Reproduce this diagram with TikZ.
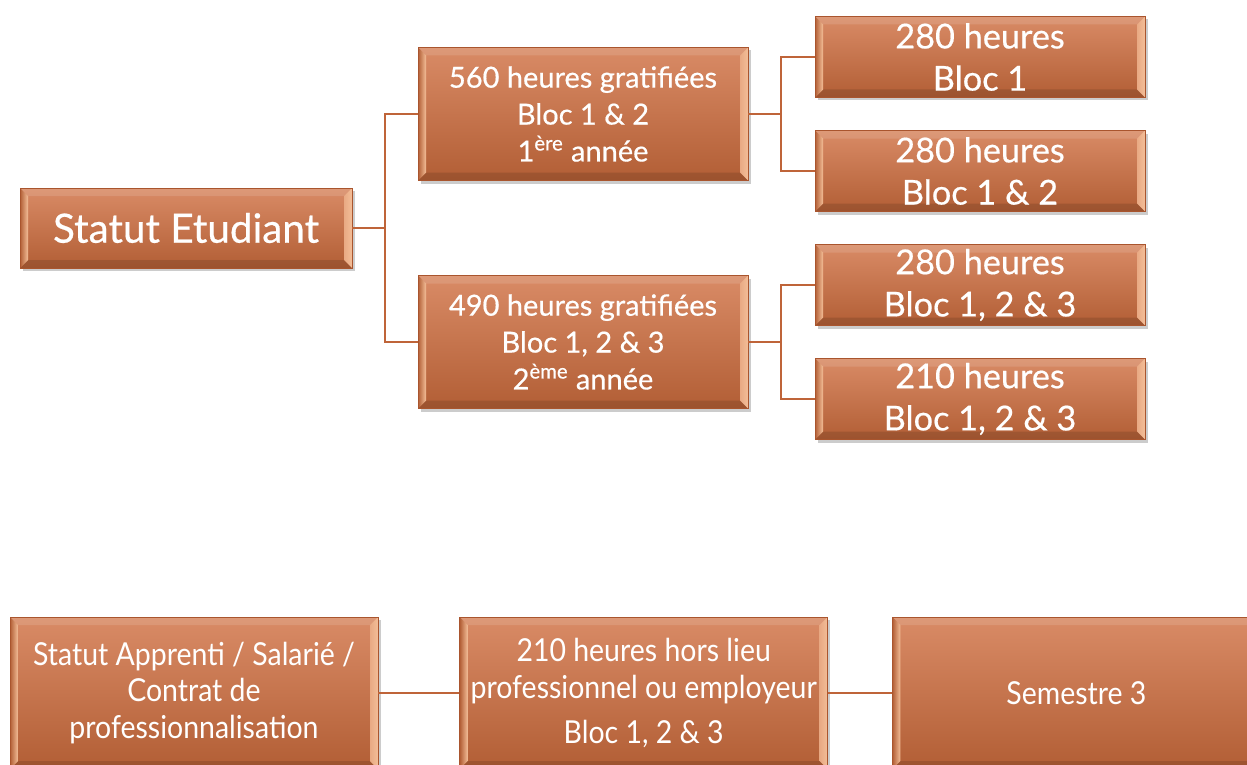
\documentclass[tikz,border=0pt]{standalone}
\usepackage{fontspec}
\setmainfont{Lato}[FakeBold=0.5]
\newfontfamily\narrowfont[FakeStretch=0.9]{Lato}
\usetikzlibrary{positioning,shadows}

\definecolor{blochaut}{HTML}{D98B66}
\definecolor{blocbas}{HTML}{B25E35}
\definecolor{blocbord}{HTML}{A9552E}
\definecolor{liaison}{HTML}{BF6439}
\definecolor{reflet}{HTML}{F3BE98}

\tikzset{
    bloc/.style={rectangle, top color=blochaut, bottom color=blocbas, draw=blocbord,
        line width=0.4pt, text=white, align=center, inner sep=2pt,
        drop shadow={opacity=0.4, shadow xshift=0.5mm, shadow yshift=-0.6mm},
        path picture={
            \coordinate (bsw) at (path picture bounding box.south west);
            \coordinate (bne) at (path picture bounding box.north east);
            \coordinate (bnw) at (bsw|-bne);
            \coordinate (bse) at (bne|-bsw);
            % biseau haut et bas
            \fill[white, opacity=0.12] (bnw) -- (bne) -- ([shift={(-0.16,-0.16)}]bne) -- ([shift={(0.16,-0.16)}]bnw) -- cycle;
            \fill[black, opacity=0.12] (bsw) -- (bse) -- ([shift={(-0.16,0.16)}]bse) -- ([shift={(0.16,0.16)}]bsw) -- cycle;
            % biseau gauche et droit
            \shade[left color=blocbas, right color=reflet] (bsw) -- (bnw) -- ([shift={(0.16,-0.16)}]bnw) -- ([shift={(0.16,0.16)}]bsw) -- cycle;
            \shade[left color=reflet!60!blochaut, right color=reflet] (bse) -- (bne) -- ([shift={(-0.16,-0.16)}]bne) -- ([shift={(-0.16,0.16)}]bse) -- cycle;
        }},
    racine/.style={bloc, minimum width=6.64cm, minimum height=1.6cm, font=\fontsize{23}{26}\selectfont},
    annee/.style={bloc, minimum width=6.6cm, minimum height=2.66cm, font=\fontsize{16.5}{21}\selectfont},
    volume/.style={bloc, minimum width=6.6cm, minimum height=1.62cm, font=\fontsize{19.5}{24}\selectfont},
    contrat/.style={bloc, minimum width=7.36cm, minimum height=3.04cm, font=\narrowfont\fontsize{18}{21}\selectfont},
    lien/.style={draw=liaison, line width=1.2pt},
}

\begin{document}
\begin{tikzpicture}[
        grow'=east, % arbre de gauche a droite, premier enfant en haut
        level 1/.style = {level distance=7.94cm, sibling distance=4.56cm},
        level 2/.style = {level distance=7.94cm, sibling distance=2.28cm},
        edge from parent/.style = {lien},
        edge from parent path = {(\tikzparentnode.east) -- ++(0.65,0) |- (\tikzchildnode.west)},
    ]
    \useasboundingbox (0,0) rectangle (24.94,-15.3);

    % statut etudiant
    \node[racine] (etudiant) at (3.72,-4.56) {Statut Etudiant}
    child {node[annee] (annee1) {560 heures gratifiées\\Bloc 1 \& 2\\1\textsuperscript{ère} année}
            child {node[volume] (bloc1) {280 heures\\Bloc 1}}
            child {node[volume] (bloc12) {280 heures\\Bloc 1 \& 2}}}
    child {node[annee] (annee2) {490 heures gratifiées\\Bloc 1, 2 \& 3\\2\textsuperscript{ème} année}
            child {node[volume] (bloc123a) {280 heures\\Bloc 1, 2 \& 3}}
            child {node[volume] (bloc123b) {210 heures\\Bloc 1, 2 \& 3}}};

    % statut apprenti
    \node[contrat] (apprenti) at (3.88,-13.86) {Statut Apprenti / Salarié /\\Contrat de\\professionnalisation};
    \node[contrat, right=1.62cm of apprenti] (horslieu) {210 heures hors lieu\\professionnel ou employeur\\[0.18cm]Bloc 1, 2 \& 3};
    \node[contrat, right=1.28cm of horslieu] (semestre) {Semestre 3};
    \draw[lien] (apprenti) -- (horslieu);
    \draw[lien] (horslieu) -- (semestre);
\end{tikzpicture}
\end{document}
